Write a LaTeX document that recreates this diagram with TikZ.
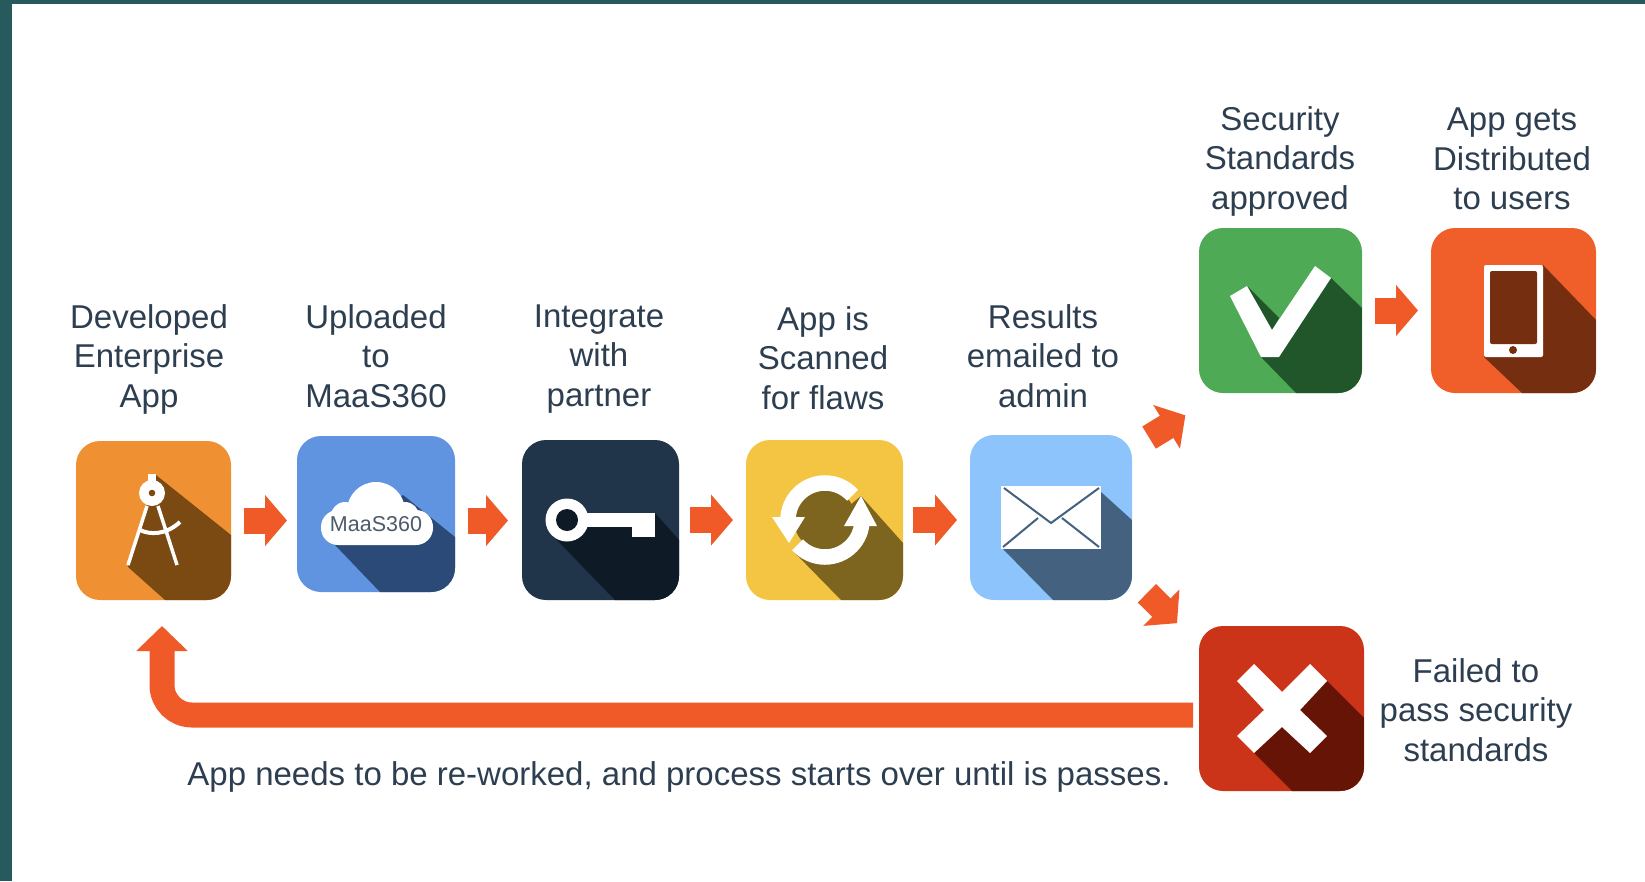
\documentclass[tikz,border=0pt]{standalone}
\usepackage{fontspec}
\setmainfont{Liberation Sans}
\usetikzlibrary{arrows.meta}
\definecolor{stripteal}{HTML}{265A5C}
\definecolor{labelblue}{HTML}{2D3E50}
\definecolor{flowred}{HTML}{F05A28}
\definecolor{developback}{HTML}{EF9133}
\definecolor{developshade}{HTML}{7A4A12}
\definecolor{uploadback}{HTML}{6094E0}
\definecolor{uploadshade}{HTML}{2C4A78}
\definecolor{partnerback}{HTML}{20344A}
\definecolor{partnershade}{HTML}{0E1A25}
\definecolor{scanback}{HTML}{F4C443}
\definecolor{scanshade}{HTML}{7D651F}
\definecolor{mailback}{HTML}{8CC4FB}
\definecolor{mailshade}{HTML}{44627F}
\definecolor{okback}{HTML}{4EAA55}
\definecolor{okshade}{HTML}{21552A}
\definecolor{phoneback}{HTML}{F05F2A}
\definecolor{phoneshade}{HTML}{752F10}
\definecolor{failback}{HTML}{CC3419}
\definecolor{failshade}{HTML}{651406}
\tikzset{
    tile/.style={rectangle, rounded corners=24, inner sep=0, outer sep=0},
    steplabel/.style={inner sep=0, align=center, text=labelblue, font=\fontsize{33}{39.5}\selectfont},
    flowarrow/.style={draw=flowred, line width=26, -{Triangle[length=22pt,width=50pt]}},
    backarrow/.style={draw=flowred, line width=25, rounded corners=30, -{Triangle[length=25pt,width=50pt]}}
}
% long shadow of a tile, cut off at the tile's edge
\newcommand{\tileshade}[3]{
    \begin{scope}
        \clip[rounded corners=24] (#1.south west) rectangle (#1.north east);
        \fill[#2] #3;
    \end{scope}
}
\begin{document}
\begin{tikzpicture}[x=1pt, y=-1pt]
    \useasboundingbox (0,0) rectangle (1645,881);
    \fill[stripteal] (0,0) rectangle (12,881);
    \fill[stripteal] (0,0) rectangle (1645,4);

    % first row
    \node[tile, fill=developback, minimum width=155, minimum height=159] (develop) at (153.5,520.5) {};
    \tileshade{develop}{developshade}{(156,475) -- (231,535) -- (231,600) -- (165,600) -- (128,567) -- cycle}
    \fill[white] (148,474) rectangle (156,484);
    \fill[white] (152,493) circle[radius=13];
    \fill[developshade] (152,493) circle[radius=3.3];
    \draw[white, line width=3.5] (147,506) -- (128,565);
    \draw[white, line width=3.5] (158,506) -- (177,565);
    \draw[white, line width=4] (140,530) .. controls (150,535) and (166,535) .. (180,522);

    \node[tile, fill=uploadback, minimum width=158, minimum height=156] (upload) at (376,514) {};
    \tileshade{upload}{uploadshade}{(403,495) -- (455,537) -- (455,592) -- (380,592) -- (335,545) -- cycle}
    \fill[white, rounded corners=17] (321,510) rectangle (433,545);
    \fill[white] (376,511) circle[radius=29];
    \fill[white] (345,516) circle[radius=14];
    \fill[white] (405,516) circle[radius=14];
    \node[inner sep=0, text=labelblue!85, font=\fontsize{21.5}{24}\selectfont] (cloudname) at (376,524) {MaaS360};

    \node[tile, fill=partnerback, minimum width=157, minimum height=160] (partner) at (600.5,520) {};
    \tileshade{partner}{partnershade}{(655,513) -- (679,540) -- (679,600) -- (615,600) -- (552,535) -- cycle}
    \fill[white] (567,520) circle[radius=21.5];
    \fill[white] (575,513) rectangle (655,527);
    \fill[white] (632,513) rectangle (655,537);
    \fill[partnershade] (567,520) circle[radius=11];

    \node[tile, fill=scanback, minimum width=157, minimum height=160] (scan) at (824.5,520) {};
    \tileshade{scan}{scanshade}{(861,496) -- (903,543) -- (903,600) -- (841,600) -- (794,552) -- cycle}
    \fill[scanshade] (825,520) circle[radius=31];
    \draw[white, line width=15.5] (788,520) arc[start angle=180, end angle=318, radius=37];
    \draw[white, line width=15.5] (862,520) arc[start angle=0, end angle=138, radius=37];
    \fill[white] (772,517) -- (805,517) -- (789,543) -- cycle;
    \fill[white] (844,526) -- (877,526) -- (861,496) -- cycle;

    \node[tile, fill=mailback, minimum width=162, minimum height=165] (mail) at (1051,517.5) {};
    \tileshade{mail}{mailshade}{(1101,492) -- (1132,520) -- (1132,600) -- (1053,600) -- (1003,549) -- cycle}
    \fill[white] (1001,486) rectangle (1101,549);
    \draw[mailshade, line width=2] (1004,488) -- (1051,523) -- (1099,488);
    \draw[mailshade, line width=2] (1003,547) -- (1038,518);
    \draw[mailshade, line width=2] (1099,547) -- (1062,518);

    % top right
    \node[tile, fill=okback, minimum width=163, minimum height=165] (approved) at (1280.5,310.5) {};
    \tileshade{approved}{okshade}{(1331,278) -- (1362,308) -- (1362,393) -- (1296,393) -- (1261,357) -- cycle}
    \tileshade{approved}{okshade}{(1247,286) -- (1279,318) -- (1272,330) -- cycle}
    \fill[white] (1230,296) -- (1247,286) -- (1272,330) -- (1315,266) -- (1331,278) -- (1279,357) -- (1261,357) -- cycle;

    \node[tile, fill=phoneback, minimum width=165, minimum height=165] (phone) at (1513.5,310.5) {};
    \tileshade{phone}{phoneshade}{(1543,265) -- (1596,320) -- (1596,393) -- (1522,393) -- (1484,357) -- cycle}
    \fill[white, rounded corners=2] (1484,265) rectangle (1543,357);
    \fill[phoneshade, rounded corners=2] (1490,271) rectangle (1537,344);
    \fill[phoneshade] (1513,350) circle[radius=4];

    % bottom right
    \node[tile, fill=failback, minimum width=165, minimum height=165] (failed) at (1281.5,708.5) {};
    \tileshade{failed}{failshade}{(1327,681) -- (1364,718) -- (1364,791) -- (1292,791) -- (1254,753) -- cycle}
    \fill[white] (1254,664) -- (1282,692) -- (1310,664) -- (1327,681) -- (1300,710) -- (1327,736) -- (1310,753) -- (1282,727) -- (1254,753) -- (1237,736) -- (1264,710) -- (1237,681) -- cycle;

    % labels
    \node[steplabel] (developtext) at (149,359) {Developed\\Enterprise\\App};
    \node[steplabel] (uploadtext) at (376,356) {Uploaded\\to\\MaaS360};
    \node[steplabel] (partnertext) at (599,359) {Integrate\\with\\partner};
    \node[steplabel] (scantext) at (823,358) {App is\\Scanned\\for flaws};
    \node[steplabel] (mailtext) at (1043,356) {Results\\emailed to\\admin};
    \node[steplabel] (approvedtext) at (1280,161) {Security\\Standards\\approved};
    \node[steplabel] (phonetext) at (1512,159) {App gets\\Distributed\\to users};
    \node[steplabel] (failedtext) at (1476,710) {Failed to\\pass security\\standards};
    \node[steplabel] (backtext) at (679,777) {App needs to be re-worked, and process starts over until is passes.};

    % arrows
    \draw[flowarrow, shorten <=13, shorten >=10] (develop.east) -- (develop.east -| upload.west);
    \draw[flowarrow, shorten <=13, shorten >=14] (upload.east |- develop.east) -- (develop.east -| partner.west);
    \draw[flowarrow, shorten <=11, shorten >=13] (partner.east) -- (partner.east -| scan.west);
    \draw[flowarrow, shorten <=10, shorten >=13] (scan.east) -- (scan.east -| mail.west);
    \draw[flowarrow, shorten <=20, shorten >=16] ([yshift=-13]mail.north east) -- ([yshift=-14]approved.south west);
    \draw[flowarrow, shorten <=21, shorten >=31] ([yshift=21.5]mail.south east) -- ([yshift=-19]failed.north west);
    \draw[flowarrow, shorten <=13, shorten >=13] (approved.east) -- (approved.east -| phone.west);

    \coordinate (backstart) at (1193,715);
    \coordinate (backtip) at (162,626);
    \draw[backarrow] (backstart) -| (backtip);
\end{tikzpicture}
\end{document}
